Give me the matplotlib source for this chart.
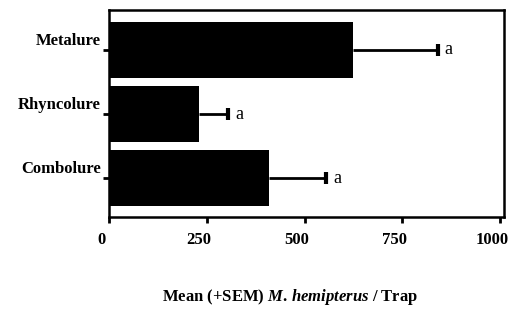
import matplotlib
matplotlib.use("Agg")
import matplotlib.pyplot as plt
from matplotlib.transforms import ScaledTranslation

categories = ["Metalure", "Rhyncolure", "Combolure"]
means = [625, 230, 410]
sems = [215, 75, 145]
letters = ["a", "a", "a"]
xticks = [0, 250, 500, 750, 1000]

plt.rcParams['font.family'] = ['Liberation Serif', 'DejaVu Serif']
plt.rcParams['mathtext.fontset'] = 'custom'
plt.rcParams['mathtext.it'] = 'Liberation Serif:italic:bold'
plt.rcParams['mathtext.rm'] = 'Liberation Serif:bold'

fig = plt.figure(figsize=(5.08, 3.09), dpi=100)
ax = fig.add_axes([109/508, 1-217/309, (504-109)/508, (217-10)/309])

pos = [0, 1, 2]
ax.barh(pos, means, height=0.87, color='black', zorder=2)
ax.hlines(pos, means, [m + s for m, s in zip(means, sems)], color='black',
          linewidth=2, zorder=3)
ax.plot([m + s for m, s in zip(means, sems)], pos, linestyle='none',
        marker='|', markersize=9, markeredgewidth=3, color='black', zorder=3)
for p, m, s, l in zip(pos, means, sems, letters):
    ax.text(m + s + 18, p, l, va='center', ha='left', fontsize=13)

ax.set_ylim(2.6, -0.62)
ax.set_xlim(0, 1010)
ax.set_yticks(pos)
ax.set_yticklabels(categories, fontweight='bold', fontsize=12)
ax.set_xticks(xticks)
ax.set_xticklabels([str(t) for t in xticks], fontweight='bold', fontsize=12)
ax.tick_params(axis='both', direction='out', length=4, width=2)
ax.tick_params(axis='x', pad=7)
ax.tick_params(axis='y', pad=2)
for lab in ax.get_xticklabels():
    lab.set_transform(lab.get_transform() + ScaledTranslation(-8/100, 0, fig.dpi_scale_trans))
for lab in ax.get_yticklabels():
    lab.set_transform(lab.get_transform() + ScaledTranslation(0, 11/100, fig.dpi_scale_trans))
for s in ax.spines.values():
    s.set_linewidth(1.8)
fig.text(290/508, 1-297/309, "Mean (+SEM) $\\it{M.\\,hemipterus}$ / Trap",
         fontweight='bold', fontsize=12, ha='center', va='center')
fig.savefig("out.png", dpi=100)
